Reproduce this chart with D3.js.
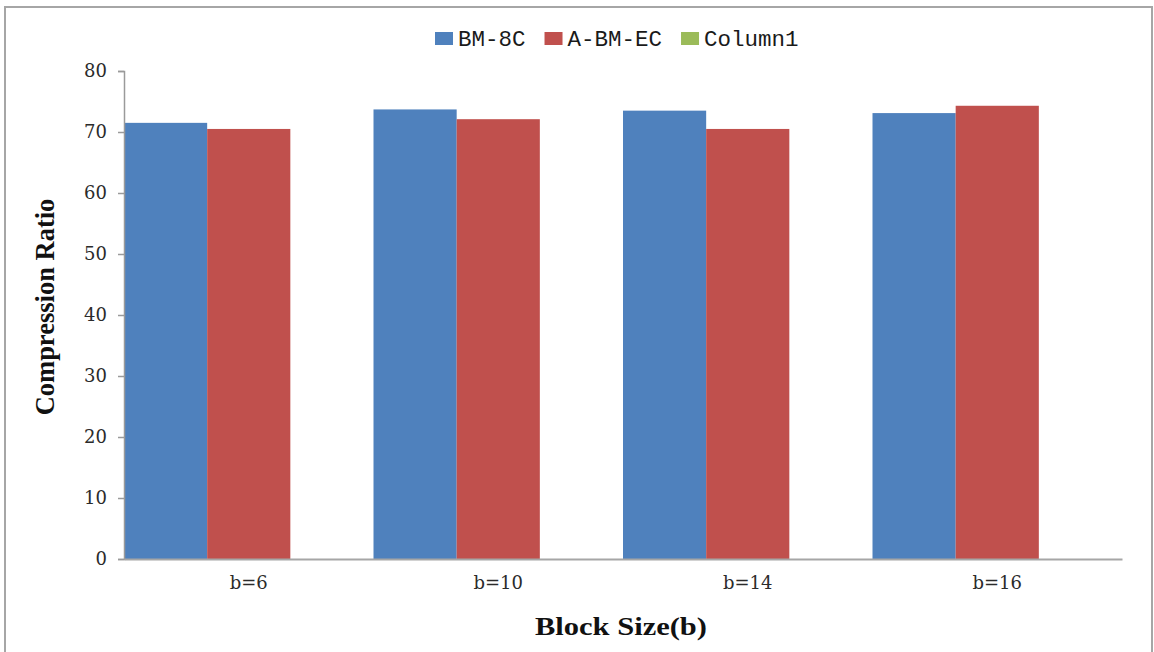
<!DOCTYPE html>
<html>
<head>
<meta charset="utf-8">
<script src="https://cdn.jsdelivr.net/npm/d3@7"></script>
<style>
  html, body { margin: 0; padding: 0; background: #fff; }
  svg { display: block; }
</style>
</head>
<body>
<svg id="chart" width="1154" height="652"></svg>
<script>
// Block sizes on the x axis
const categories = ["b=6", "b=10", "b=14", "b=16"];
// Series names (Column1 is an empty placeholder series)
const seriesNames = ["BM-8C", "A-BM-EC", "Column1"];
// Compression ratio per block size
const bm8c = [71.5, 73.7, 73.5, 73.1];
const abmec = [70.5, 72.1, 70.5, 74.3];
const column1 = [null, null, null, null];
const yTicks = [0, 10, 20, 30, 40, 50, 60, 70, 80];

const colors = ["#4F81BD", "#C0504D", "#9BBB59"];
const seriesValues = [bm8c, abmec, column1];

const svg = d3.select("#chart");
const plot = { left: 124, right: 1122, top: 71, bottom: 559 };

// outer frame
svg.append("rect")
  .attr("x", 5).attr("y", 7)
  .attr("width", 1147).attr("height", 660)
  .attr("fill", "#fff")
  .attr("stroke", "#a6a6a6").attr("stroke-width", 2);

const x = d3.scaleBand().domain(categories).range([plot.left, plot.right]).padding(0);
const xs = d3.scaleBand().domain(seriesNames).range([0, x.bandwidth()]).padding(0);
const y = d3.scaleLinear().domain([0, 80]).range([plot.bottom, plot.top]);

// bars
const rows = [];
categories.forEach((c, i) => {
  seriesNames.forEach((s, j) => {
    const v = seriesValues[j][i];
    if (v != null) rows.push({ c, s, v, color: colors[j] });
  });
});
svg.append("g").selectAll("rect").data(rows).join("rect")
  .attr("x", d => x(d.c) + xs(d.s))
  .attr("width", xs.bandwidth())
  .attr("y", d => y(d.v))
  .attr("height", d => y(0) - y(d.v))
  .attr("fill", d => d.color);

// y axis
const yAxis = svg.append("g")
  .attr("transform", `translate(${plot.left},0)`)
  .call(d3.axisLeft(y).tickValues(yTicks).tickSize(6).tickPadding(11).tickSizeOuter(6));
yAxis.select(".domain").attr("stroke", "#9a9a9a").attr("stroke-width", 1.5);
yAxis.selectAll(".tick line").attr("stroke", "#9a9a9a").attr("stroke-width", 1.5);
yAxis.selectAll(".tick text")
  .attr("fill", "#2b2b2b")
  .style("font-family", "'DejaVu Serif', serif")
  .style("font-size", "18px");

// x axis
const xAxis = svg.append("g")
  .attr("transform", `translate(0,${plot.bottom})`)
  .call(d3.axisBottom(x).tickSize(0).tickPadding(17));
xAxis.select(".domain").attr("stroke", "#a6a6a6").attr("stroke-width", 2);
xAxis.selectAll(".tick text")
  .attr("fill", "#2b2b2b")
  .style("font-family", "'DejaVu Serif', serif")
  .style("font-size", "18px");

// axis titles
svg.append("text")
  .attr("transform", "translate(54,307) rotate(-90)")
  .attr("text-anchor", "middle")
  .style("font-family", "'Liberation Serif', 'Times New Roman', serif")
  .style("font-weight", "bold")
  .style("font-size", "26.5px")
  .attr("fill", "#111")
  .text("Compression Ratio");

svg.append("text")
  .attr("transform", "translate(621,635) scale(1.22,1)")
  .attr("text-anchor", "middle")
  .style("font-family", "'Liberation Serif', 'Times New Roman', serif")
  .style("font-weight", "bold")
  .style("font-size", "25px")
  .attr("fill", "#111")
  .text("Block Size(b)");

// legend
const legend = svg.append("g");
let lx = 435;
seriesNames.forEach((name, i) => {
  legend.append("rect")
    .attr("x", lx).attr("y", 32)
    .attr("width", 18).attr("height", 13)
    .attr("fill", colors[i]);
  const t = legend.append("text")
    .attr("x", lx + 23).attr("y", 46)
    .style("font-family", "'Liberation Mono', monospace")
    .style("font-size", "22.5px")
    .attr("fill", "#1a1a1a")
    .text(name);
  lx += 18 + 5 + t.node().getComputedTextLength() + 19;
});
</script>
</body>
</html>
